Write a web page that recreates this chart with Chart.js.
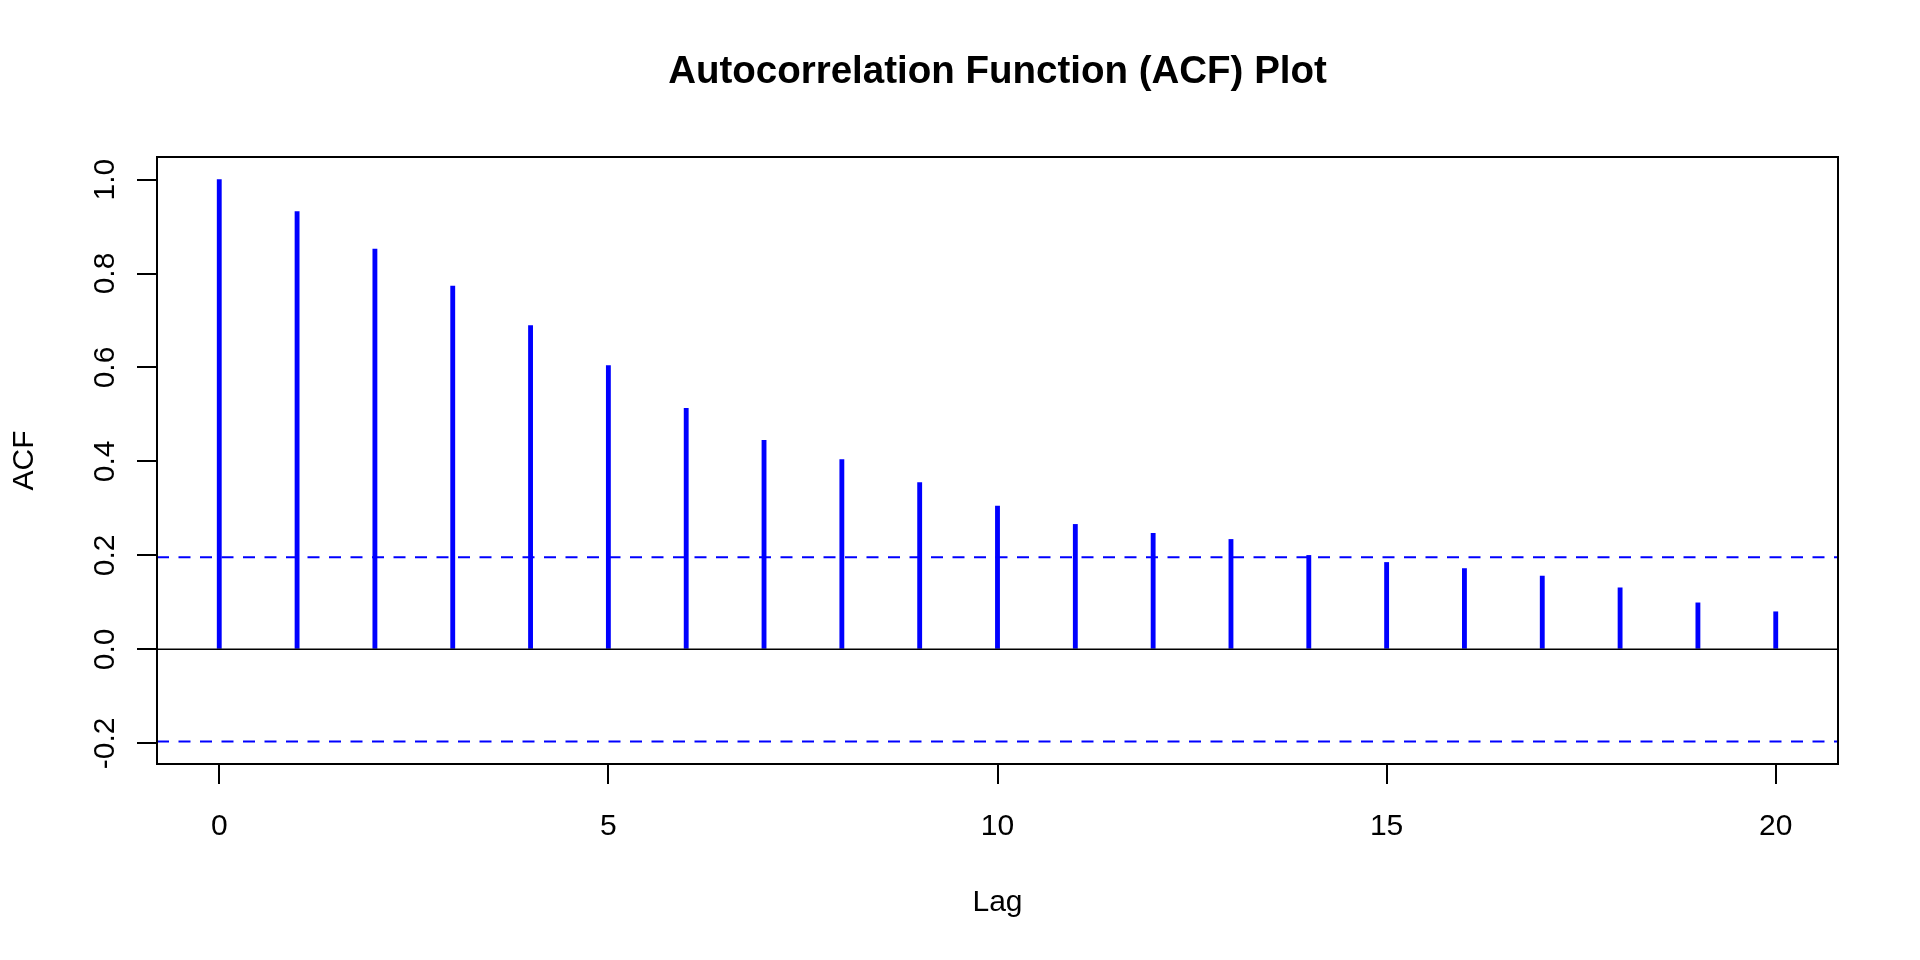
<!DOCTYPE html>
<html>
<head>
<meta charset="utf-8">
<title>ACF Plot</title>
<script src="https://cdn.jsdelivr.net/npm/chart.js@4.4.1/dist/chart.umd.min.js"></script>
<style>
    html, body { margin: 0; padding: 0; background: #fff; }
    #wrap { width: 1920px; height: 960px; }
</style>
</head>
<body>
<div id="wrap"><canvas id="acfChart"></canvas></div>
<script>
// values
const lags = [0, 1, 2, 3, 4, 5, 6, 7, 8, 9, 10, 11, 12, 13, 14, 15, 16, 17, 18, 19, 20];
const acfValues = [1.000, 0.932, 0.852, 0.773, 0.689, 0.604, 0.513, 0.445, 0.404, 0.355, 0.305,
                   0.266, 0.247, 0.234, 0.200, 0.185, 0.172, 0.156, 0.131, 0.099, 0.080];
const confLimit = 0.196;
const xTicks = [0, 5, 10, 15, 20];
const yTicks = [-0.2, 0.0, 0.2, 0.4, 0.6, 0.8, 1.0];
const xRange = [-0.8, 20.8];
const yRange = [-0.244, 1.048];

const FONT = '"Liberation Sans", Arial, Helvetica, sans-serif';

// title + box round the plot region, like base R graphics
const framePlugin = {
    id: 'frame',
    afterDraw(chart) {
        const { ctx, chartArea: a } = chart;
        ctx.save();
        ctx.strokeStyle = '#000';
        ctx.lineWidth = 2;
        ctx.strokeRect(a.left, a.top, a.right - a.left, a.bottom - a.top);
        ctx.fillStyle = '#000';
        ctx.font = 'bold 38.5px ' + FONT;
        ctx.textAlign = 'center';
        ctx.textBaseline = 'alphabetic';
        ctx.fillText('Autocorrelation Function (ACF) Plot', (a.left + a.right) / 2, 83);
        ctx.restore();
    }
};

const hLine = y => [{ x: xRange[0], y: y }, { x: xRange[1], y: y }];

new Chart(document.getElementById('acfChart'), {
    type: 'bar',
    data: {
        datasets: [{
            type: 'bar',
            data: lags.map((l, i) => ({ x: l, y: acfValues[i] })),
            backgroundColor: '#0000ff',
            borderWidth: 0,
            barThickness: 4.2,
            order: 2
        }, {
            type: 'line',
            data: hLine(0),
            borderColor: '#000',
            borderWidth: 1.5,
            pointRadius: 0,
            order: 1
        }, {
            type: 'line',
            data: hLine(confLimit),
            borderColor: '#0000ff',
            borderWidth: 2,
            borderDash: [12, 9.5],
            pointRadius: 0,
            order: 0
        }, {
            type: 'line',
            data: hLine(-confLimit),
            borderColor: '#0000ff',
            borderWidth: 2,
            borderDash: [12, 9.5],
            pointRadius: 0,
            order: 0
        }]
    },
    options: {
        responsive: true,
        maintainAspectRatio: false,
        animation: false,
        layout: { padding: { left: 0, top: 157, right: 82, bottom: 0 } },
        plugins: {
            legend: { display: false },
            tooltip: { enabled: false },
            title: { display: false }
        },
        scales: {
            x: {
                type: 'linear',
                min: xRange[0],
                max: xRange[1],
                offset: false,
                afterBuildTicks: s => { s.ticks = xTicks.map(v => ({ value: v })); },
                afterFit: s => { s.height = 196; },
                grid: { drawOnChartArea: false, color: '#000', lineWidth: 2, tickLength: 20, offset: false },
                border: { display: false },
                ticks: {
                    color: '#000',
                    font: { family: FONT, size: 30 },
                    padding: 25,
                    maxRotation: 0,
                    callback: v => String(v)
                },
                title: {
                    display: true,
                    text: 'Lag',
                    color: '#000',
                    font: { family: FONT, size: 30 },
                    padding: { top: 0, bottom: 39 }
                }
            },
            y: {
                min: yRange[0],
                max: yRange[1],
                afterBuildTicks: s => { s.ticks = yTicks.map(v => ({ value: v })); },
                afterFit: s => { s.width = 157; },
                grid: { drawOnChartArea: false, color: '#000', lineWidth: 2, tickLength: 20 },
                border: { display: false },
                ticks: {
                    color: '#000',
                    font: { family: FONT, size: 30 },
                    padding: 5,
                    minRotation: 90,
                    maxRotation: 90,
                    crossAlign: 'center',
                    callback: v => v.toFixed(1)
                },
                title: {
                    display: true,
                    text: 'ACF',
                    color: '#000',
                    font: { family: FONT, size: 30 },
                    padding: { top: 6.5, bottom: 0 }
                }
            }
        }
    },
    plugins: [framePlugin]
});
</script>
</body>
</html>
